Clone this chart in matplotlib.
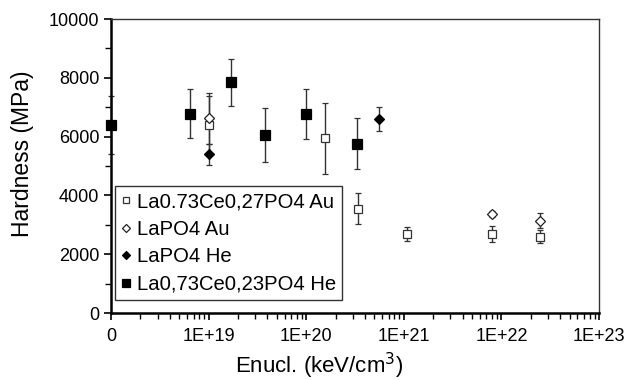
import matplotlib
matplotlib.use("Agg")
import matplotlib.pyplot as plt
import numpy as np
from matplotlib.ticker import FixedLocator, LogLocator, NullFormatter, MultipleLocator

plt.rcParams['font.family'] = ['Liberation Sans', 'DejaVu Sans']

# x = 1e18 is shown as "0" on the axis
x_zero = 1e18

# La0.73Ce0,27PO4 Au (open squares)
sqo_x = [1.0e19, 1.57e20, 3.4e20, 1.07e21, 8.0e21, 2.5e22]
sqo_y = [6380, 5940, 3550, 2690, 2690, 2590]
sqo_e = [1000, 1200, 530, 240, 270, 220]

# LaPO4 Au (open diamonds)
dio_x = [1.0e19, 8.0e21, 2.5e22]
dio_y = [6620, 3370, 3140]
dio_e = [860, 100, 250]

# LaPO4 He (filled diamonds)
dif_x = [1.0e19, 5.5e20]
dif_y = [5400, 6600]
dif_e = [350, 410]

# La0,73Ce0,23PO4 He (filled squares)
sqf_x = [x_zero, 6.5e18, 1.7e19, 3.8e19, 1.0e20, 3.3e20]
sqf_y = [6400, 6780, 7850, 6065, 6770, 5760]
sqf_e = [980, 840, 800, 920, 840, 870]

labels = ["La0.73Ce0,27PO4 Au", "LaPO4 Au", "LaPO4 He", "La0,73Ce0,23PO4 He"]
xtick_vals = [1e18, 1e19, 1e20, 1e21, 1e22, 1e23]
xtick_labels = ["0", "1E+19", "1E+20", "1E+21", "1E+22", "1E+23"]

fig = plt.figure(figsize=(6.24, 3.8), dpi=100)
ax = fig.add_axes([0.178, 0.176, 0.782, 0.774])

ecol = '#333333'
common = dict(ls='none', ecolor=ecol, elinewidth=1.0, capsize=2.5, capthick=1.0, clip_on=False)

h1 = ax.errorbar(sqo_x, sqo_y, yerr=sqo_e, marker='s', ms=6, mfc='white', mec='#333333', mew=0.9, **common)
h2 = ax.errorbar(dio_x, dio_y, yerr=dio_e, marker='D', ms=4.8, mfc='white', mec='#222222', mew=0.9, **common)
h3 = ax.errorbar(dif_x, dif_y, yerr=dif_e, marker='D', ms=4.8, mfc='black', mec='black', mew=0.9, **common)
h4 = ax.errorbar(sqf_x, sqf_y, yerr=sqf_e, marker='s', ms=7.5, mfc='black', mec='black', mew=0.9, **common)

ax.set_xscale('log')
ax.set_xlim(1e18, 1e23)
ax.set_ylim(0, 10000)
ax.xaxis.set_major_locator(FixedLocator(xtick_vals))
ax.set_xticklabels(xtick_labels)
ax.xaxis.set_minor_locator(LogLocator(base=10, subs=np.arange(2, 10)))
ax.xaxis.set_minor_formatter(NullFormatter())
ax.yaxis.set_major_locator(MultipleLocator(2000))
ax.yaxis.set_minor_locator(MultipleLocator(1000))

ax.tick_params(axis='both', which='major', direction='out', length=5, width=1.2, labelsize=13, colors='black')
ax.tick_params(axis='both', which='minor', direction='out', length=4, width=1.0)
ax.tick_params(axis='x', which='major', pad=6)

for s in ['left', 'bottom']:
    ax.spines[s].set_linewidth(1.8)
    ax.spines[s].set_color('black')
for s in ['top', 'right']:
    ax.spines[s].set_linewidth(1.0)
    ax.spines[s].set_color('#333333')

fig.text(23 / 624, 1 - 154 / 380, "Hardness (MPa)", fontsize=16.5, rotation=90, ha='center', va='center')
fig.text(319 / 624, 1 - 373 / 380, "Enucl. (keV/cm$^3$)", fontsize=16, ha='center', va='baseline')

leg = ax.legend([h1[0], h2[0], h3[0], h4[0]], labels, loc='lower left',
                bbox_to_anchor=(0.008, 0.044), fontsize=14.6, frameon=True, fancybox=False,
                edgecolor='black', handlelength=0.4, handletextpad=0.35, labelspacing=0.42,
                borderpad=0.32, borderaxespad=0, markerscale=0.8)
leg.get_frame().set_linewidth(1.0)

fig.savefig("out.png", dpi=100)
